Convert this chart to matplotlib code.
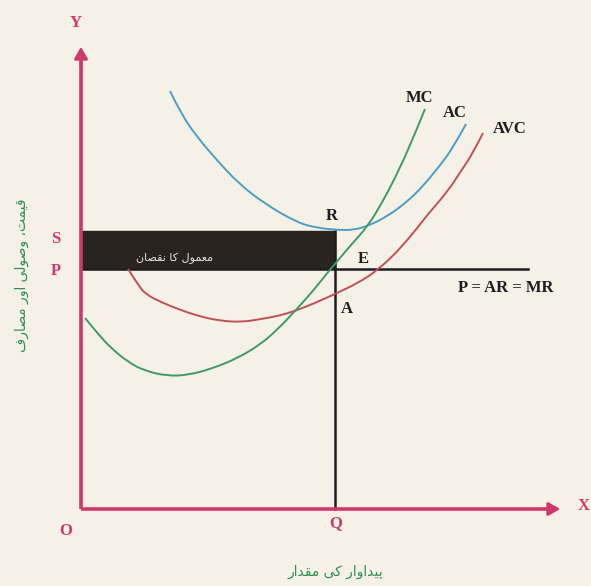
import matplotlib
matplotlib.use("Agg")
import matplotlib.pyplot as plt
from matplotlib.patches import Rectangle, FancyArrowPatch, PathPatch
from matplotlib.path import Path

# ---------------- data (pixel-based units: x right, y up from origin O) -------------
mc_x = [4, 17, 30, 47, 64, 87, 107, 130, 157, 180, 197, 214, 232, 247, 254, 269, 287, 302, 314, 329, 344]
mc_y = [191, 175, 161, 147, 138, 133, 134, 140, 151, 165, 180, 198, 218, 237, 245, 263, 283, 308, 331, 363, 400]

ac_x = [89, 100, 117, 134, 157, 184, 217, 237, 257, 272, 287, 307, 327, 342, 357, 372, 385]
ac_y = [418, 395, 371, 351, 326, 305, 286, 281, 279, 279, 283, 293, 308, 323, 341, 361, 385]

avc_x = [47, 56, 64, 82, 97, 117, 140, 162, 180, 197, 214, 234, 254, 277, 297, 322, 347, 367, 380, 392, 402]
avc_y = [240, 226, 215, 206, 200, 193, 188, 187, 190, 193, 198, 206, 215, 226, 239, 263, 295, 318, 338, 356, 376]

Q = 254          # output level
S_level = 278    # average cost at Q
P_level = 240    # price = AR = MR

labels_axis = {"Y": (-5, 486), "X": (503, 3), "O": (-15, -22), "S": (-25, 270), "P": (-25, 238), "Q": (255, -14)}
labels_pts = {"R": (251, 293), "E": (282, 250), "A": (266, 200),
              "MC": (339, 411), "AC": (374, 396), "AVC": (429, 380), "P = AR = MR": (425, 221)}

box_text = "معمول کا نقصان"
xlabel_text = "پیداوار کی مقدار"
ylabel_text = "قیمت، وصولی اور مصارف"

# ---------------- minimal Urdu shaping (matplotlib does no Arabic shaping / bidi) -------------
FORMS = {  # iso, fin, ini, med
    "ا": ("\uFE8D", "\uFE8E", None, None),
    "د": ("\uFEA9", "\uFEAA", None, None),
    "ر": ("\uFEAD", "\uFEAE", None, None),
    "و": ("\uFEED", "\uFEEE", None, None),
    "پ": ("\uFB56", "\uFB57", "\uFB58", "\uFB59"),
    "ت": ("\uFE95", "\uFE96", "\uFE97", "\uFE98"),
    "ص": ("\uFEB9", "\uFEBA", "\uFEBB", "\uFEBC"),
    "ع": ("\uFEC9", "\uFECA", "\uFECB", "\uFECC"),
    "ف": ("\uFED1", "\uFED2", "\uFED3", "\uFED4"),
    "ق": ("\uFED5", "\uFED6", "\uFED7", "\uFED8"),
    "ک": ("\uFB8E", "\uFB8F", "\uFB90", "\uFB91"),
    "ل": ("\uFEDD", "\uFEDE", "\uFEDF", "\uFEE0"),
    "م": ("\uFEE1", "\uFEE2", "\uFEE3", "\uFEE4"),
    "ن": ("\uFEE5", "\uFEE6", "\uFEE7", "\uFEE8"),
    "ی": ("\uFBFC", "\uFBFD", "\uFBFE", "\uFBFF"),
}


def dual(c):
    return c in FORMS and FORMS[c][2] is not None


def joins(c):
    return c in FORMS


def shape(s):
    out = []
    for i, c in enumerate(s):
        if c not in FORMS:
            out.append(c)
            continue
        prev = s[i - 1] if i > 0 else ""
        nxt = s[i + 1] if i + 1 < len(s) else ""
        pc = dual(prev)
        nc = dual(c) and joins(nxt)
        iso, fin, ini, med = FORMS[c]
        if pc and nc:
            out.append(med)
        elif pc:
            out.append(fin)
        elif nc:
            out.append(ini)
        else:
            out.append(iso)
    return "".join(out)[::-1]


def smooth_path(xs, ys):
    """Quadratic Bezier path through midpoints, using read points as control points."""
    pts = list(zip(xs, ys))
    verts = [pts[0]]
    codes = [Path.MOVETO]
    for i in range(1, len(pts) - 1):
        mid = ((pts[i][0] + pts[i + 1][0]) / 2, (pts[i][1] + pts[i + 1][1]) / 2)
        end = mid if i < len(pts) - 2 else pts[-1]
        verts += [pts[i], end]
        codes += [Path.CURVE3, Path.CURVE3]
    return Path(verts, codes)


# ---------------- figure -------------
W, H = 591, 586
ox, oy = 81, 509
fig = plt.figure(figsize=(W / 100, H / 100), dpi=100)
fig.patch.set_facecolor("#f5f1e6")
ax = fig.add_axes([0, 0, 1, 1])
ax.set_facecolor("#f5f1e6")
ax.set_xlim(-ox, W - ox)
ax.set_ylim(-(H - oy), oy)
ax.axis("off")

pink = "#cc3a6c"
green_txt = "#2f8f55"
serif = ["Liberation Serif", "DejaVu Serif"]

# loss rectangle
ax.add_patch(Rectangle((0, P_level), Q, S_level - P_level, facecolor="#2a2421", edgecolor="#2a2421", zorder=2))
ax.text(93, 251, shape(box_text), color="#e8e2d6", fontsize=8,
        family=["DejaVu Sans"], ha="center", va="center", zorder=3)

# price line and Q line
ax.plot([0, 447], [P_level, P_level], color="#1e1e1e", lw=1.8, zorder=3)
ax.plot([Q, Q], [0, S_level], color="#1e1e1e", lw=1.8, zorder=3)

# cost curves
for xs, ys, col in [(ac_x, ac_y, "#4a9fc6"), (avc_x, avc_y, "#c0505a"), (mc_x, mc_y, "#3f9a68")]:
    ax.add_patch(PathPatch(smooth_path(xs, ys), facecolor="none", edgecolor=col, lw=1.4, zorder=4))

# axes with arrows
ax.plot([0, 0], [0, 450], color=pink, lw=2.6, zorder=5, solid_capstyle="butt")
ax.plot([0, 470], [0, 0], color=pink, lw=2.6, zorder=5, solid_capstyle="butt")
ax.add_patch(FancyArrowPatch((0, 440), (0, 465), arrowstyle="-|>,head_length=7,head_width=4",
                             color=pink, lw=2, zorder=5))
ax.add_patch(FancyArrowPatch((460, 0), (482, 0), arrowstyle="-|>,head_length=7,head_width=4",
                             color=pink, lw=2, zorder=5))

for t, (x, y) in labels_axis.items():
    ax.text(x, y, t, color=pink, fontsize=12, fontweight="bold", family=serif, ha="center", va="center")
for t, (x, y) in labels_pts.items():
    ax.text(x, y, t, color="#1e1e1e", fontsize=12, fontweight="bold", family=serif, ha="center", va="center")

ax.text(254, -63, shape(xlabel_text), color=green_txt, fontsize=10, family=["DejaVu Sans"],
        ha="center", va="center")
ax.text(-59, 234, shape(ylabel_text), color=green_txt, fontsize=10, family=["DejaVu Sans"],
        ha="center", va="center", rotation=90)

fig.savefig("out.png", dpi=100, facecolor=fig.get_facecolor())
